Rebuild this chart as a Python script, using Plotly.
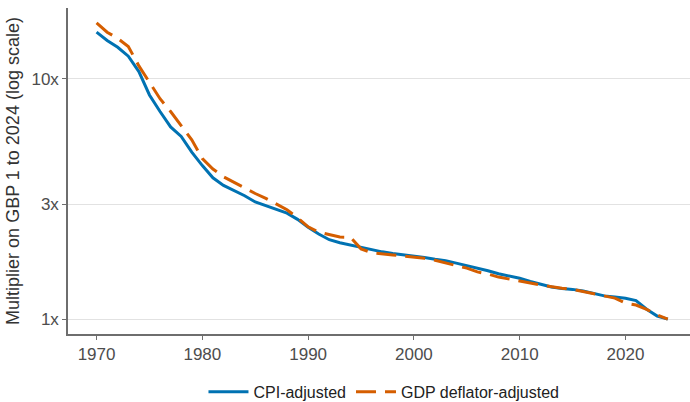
import plotly.graph_objects as go

# Multiplier needed to turn GBP 1 of a given year into 2024 pounds
years = list(range(1970, 2025))

cpi_multiplier = [
    15.6, 14.4, 13.5, 12.4, 10.7, 8.55, 7.3, 6.3, 5.75, 4.95,   # 1970-1979
    4.35, 3.87, 3.6, 3.42, 3.26, 3.07, 2.97, 2.86, 2.76, 2.6,   # 1980-1989
    2.41, 2.26, 2.14, 2.08, 2.035, 1.98, 1.94, 1.905, 1.875, 1.855,  # 1990-1999
    1.83, 1.805, 1.775, 1.75, 1.71, 1.67, 1.635, 1.59, 1.545, 1.515,  # 2000-2009
    1.48, 1.435, 1.395, 1.36, 1.34, 1.33, 1.31, 1.28, 1.25, 1.236,   # 2010-2019
    1.222, 1.195, 1.10, 1.03, 1.0,                                   # 2020-2024
]

gdp_deflator_multiplier = [
    17.06, 15.6, 14.7, 13.6, 11.3, 9.7, 8.25, 7.3, 6.4, 5.57,   # 1970-1979
    4.65, 4.21, 3.91, 3.70, 3.50, 3.33, 3.18, 3.01, 2.85, 2.64,  # 1980-1989
    2.42, 2.30, 2.24, 2.195, 2.19, 1.96, 1.89, 1.875, 1.85, 1.83,  # 1990-1999
    1.81, 1.79, 1.757, 1.71, 1.67, 1.63, 1.573, 1.54, 1.496, 1.465,  # 2000-2009
    1.436, 1.415, 1.386, 1.362, 1.346, 1.331, 1.304, 1.275, 1.25, 1.223,  # 2010-2019
    1.166, 1.145, 1.098, 1.042, 1.0,                                  # 2020-2024
]

series_names = ["CPI-adjusted", "GDP deflator-adjusted"]
x_tick_values = [1970, 1980, 1990, 2000, 2010, 2020]
y_tick_values = [1, 3, 10]
y_tick_labels = ["1x", "3x", "10x"]

blue = "#0072B2"
orange = "#D55E00"
axis_grey = "#6e6e6e"
text_grey = "#4d4d4d"
font_family = "Liberation Sans, Arial, Helvetica, sans-serif"

fig = go.Figure()
fig.add_trace(go.Scatter(
    x=years, y=cpi_multiplier, mode="lines", name=series_names[0],
    line=dict(color=blue, width=3),
))
fig.add_trace(go.Scatter(
    x=years, y=gdp_deflator_multiplier, mode="lines", name=series_names[1],
    line=dict(color=orange, width=3, dash="20px,9px"),
))

fig.update_layout(
    width=690, height=402,
    margin=dict(l=68, r=0, t=8, b=68),
    paper_bgcolor="white", plot_bgcolor="white",
    font=dict(family=font_family, size=16, color=text_grey),
    showlegend=True,
    legend=dict(
        orientation="h", x=0.508, xanchor="center",
        yref="container", y=0.025, yanchor="middle",
        font=dict(size=16, color="#222222"),
        bgcolor="rgba(0,0,0,0)",
        itemwidth=40,
    ),
)

fig.update_xaxes(
    range=[1967.3, 2026.1],
    tickvals=x_tick_values,
    showgrid=False, zeroline=False,
    showline=True, linecolor=axis_grey, linewidth=1.5,
    ticks="outside", ticklen=4, tickcolor=axis_grey, tickwidth=1,
    tickfont=dict(size=17, color=text_grey),
)

fig.update_yaxes(
    type="log",
    range=[-0.0616, 1.2936],
    tickvals=y_tick_values, ticktext=y_tick_labels,
    showgrid=True, gridcolor="#e2e2e2", gridwidth=1,
    zeroline=False,
    showline=True, linecolor=axis_grey, linewidth=1.5,
    ticks="outside", ticklen=4, tickcolor=axis_grey, tickwidth=1,
    tickfont=dict(size=17, color=text_grey),
    title=dict(
        text="Multiplier on GBP 1 to 2024 (log scale)",
        font=dict(size=18, color="#333333"),
        standoff=7,
    ),
)

fig.write_html("out.html")
